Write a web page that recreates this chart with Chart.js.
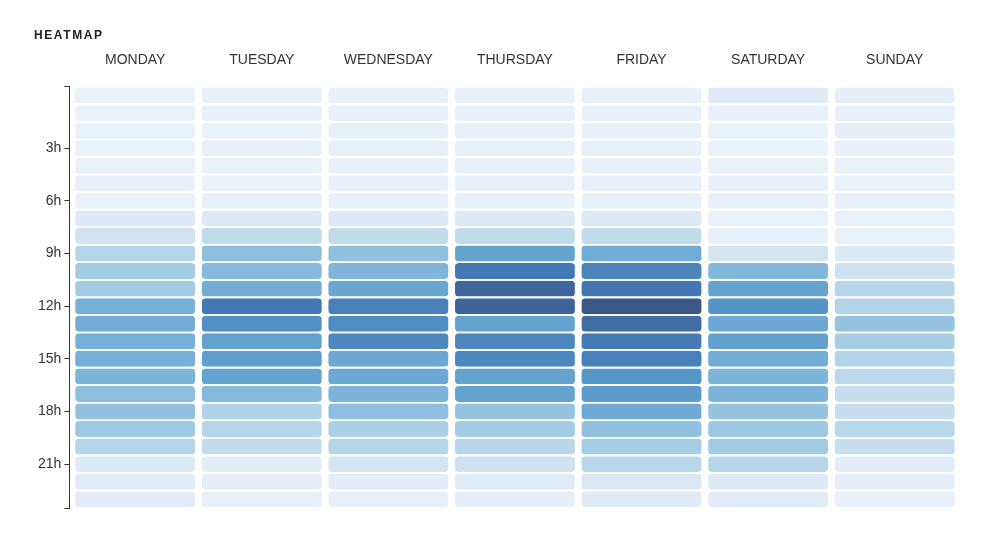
<!DOCTYPE html>
<html lang="en">
<head>
    <meta charset="UTF-8">
    <title>Heatmap</title>
    <script src="https://cdn.jsdelivr.net/npm/chart.js"></script>
    <style>
        body{ margin: 0; background: #fff; }
        .wrap{ position: relative; width: 994px; height: 557px; }
        .title{
            position: absolute; left: 34px; top: 28px;
            font: bold 12px "Liberation Sans", Arial, sans-serif;
            letter-spacing: 1.6px; color: #222;
        }
    </style>
</head>
<body>
    <div class="wrap">
        <div class="title">HEATMAP</div>
        <canvas id="myChart"></canvas>
    </div>
<script>
    const days = ['MONDAY', 'TUESDAY', 'WEDNESDAY', 'THURSDAY', 'FRIDAY', 'SATURDAY', 'SUNDAY'];
    const hours = [0,1,2,3,4,5,6,7,8,9,10,11,12,13,14,15,16,17,18,19,20,21,22,23];
    const hourTicks = [3, 6, 9, 12, 15, 18, 21];

    // activity per hour, 0..100
    const monday    = [4,4,4,4,4,5,4,15,22,36,44,44,61,62,61,61,58,52,50,46,36,15,11,9];
    const tuesday   = [5,5,4,5,4,4,5,15,32,52,55,62,85,77,69,71,68,55,38,36,30,10,8,6];
    const wednesday = [5,5,6,6,5,5,5,15,30,51,57,66,82,78,80,65,65,58,52,40,36,20,9,6];
    const thursday  = [5,5,5,5,5,6,5,15,31,68,85,93,94,68,80,80,68,68,49,44,35,24,11,7];
    const friday    = [5,5,5,5,5,5,5,15,31,63,81,86,100,90,84,82,75,72,64,51,43,34,16,12];
    const saturday  = [12,5,4,4,4,5,5,4,6,20,56,68,76,65,70,63,58,59,49,47,45,35,15,11];
    const sunday    = [7,5,7,5,4,4,5,4,4,14,23,35,37,49,42,37,33,28,28,34,28,9,7,5];
    const values = [monday, tuesday, wednesday, thursday, friday, saturday, sunday];

    const stops = [
        [0, [238,244,251]], [15, [221,233,244]], [30, [194,220,236]], [45, [161,203,227]],
        [60, [120,177,216]], [75, [85,150,200]], [85, [66,120,179]], [100, [59,87,135]]
    ];
    function colorFor(v){
        for(let i = 1; i < stops.length; i++){
            if(v <= stops[i][0]){
                const [a, ca] = stops[i-1], [b, cb] = stops[i];
                const t = (v - a) / (b - a);
                const c = ca.map((x, k) => Math.round(x + (cb[k] - x) * t));
                return `rgb(${c[0]},${c[1]},${c[2]})`;
            }
        }
        return 'rgb(59,87,135)';
    }

    const ctx = document.querySelector('#myChart');
    new Chart(ctx, {
        type: 'bar',
        data: {
            datasets: days.map((day, i) => ({
                label: day,
                data: hours.map(h => ({x: 1, y: h})),
                backgroundColor: values[i].map(colorFor),
                borderColor: 'rgba(0,0,0,0)',
                borderWidth: {left: 3.4, right: 3.4, top: 0, bottom: 0},
                borderSkipped: false,
                borderRadius: {topLeft: 7, topRight: 7, bottomLeft: 7, bottomRight: 7},
                categoryPercentage: 1,
                barPercentage: 0.91
            }))
        },
        options: {
            indexAxis: 'y',
            responsive: true,
            maintainAspectRatio: false,
            animation: false,
            events: [],
            layout: { padding: { top: 42, left: 35, right: 36, bottom: 49 } },
            plugins: { legend: { display: false }, tooltip: { enabled: false } },
            scales: {
                x: {
                    type: 'linear', position: 'top', stacked: true,
                    min: -0.02, max: 7, offset: false,
                    grid: { display: false }, border: { display: false },
                    afterBuildTicks: s => { s.ticks = days.map((d, i) => ({value: i + 0.5})); },
                    ticks: {
                        maxRotation: 0, autoSkip: false, padding: 10,
                        color: '#333', font: { family: '"Liberation Sans", Arial', size: 14 },
                        callback: (v, i) => days[i]
                    }
                },
                y: {
                    type: 'linear', stacked: true, reverse: true,
                    min: -0.5, max: 23.5, offset: false,
                    afterBuildTicks: s => {
                        s.ticks = [-0.5, ...hourTicks, 23.5].map(v => ({value: v}));
                    },
                    grid: { drawOnChartArea: false, offset: false, color: '#333', tickLength: 5 },
                    border: { color: '#333', width: 1 },
                    ticks: {
                        autoSkip: false, padding: 3, color: '#333',
                        font: { family: '"Liberation Sans", Arial', size: 14 },
                        callback: v => Number.isInteger(v) ? v + 'h' : ''
                    }
                }
            }
        }
    });
</script>
</body>
</html>
